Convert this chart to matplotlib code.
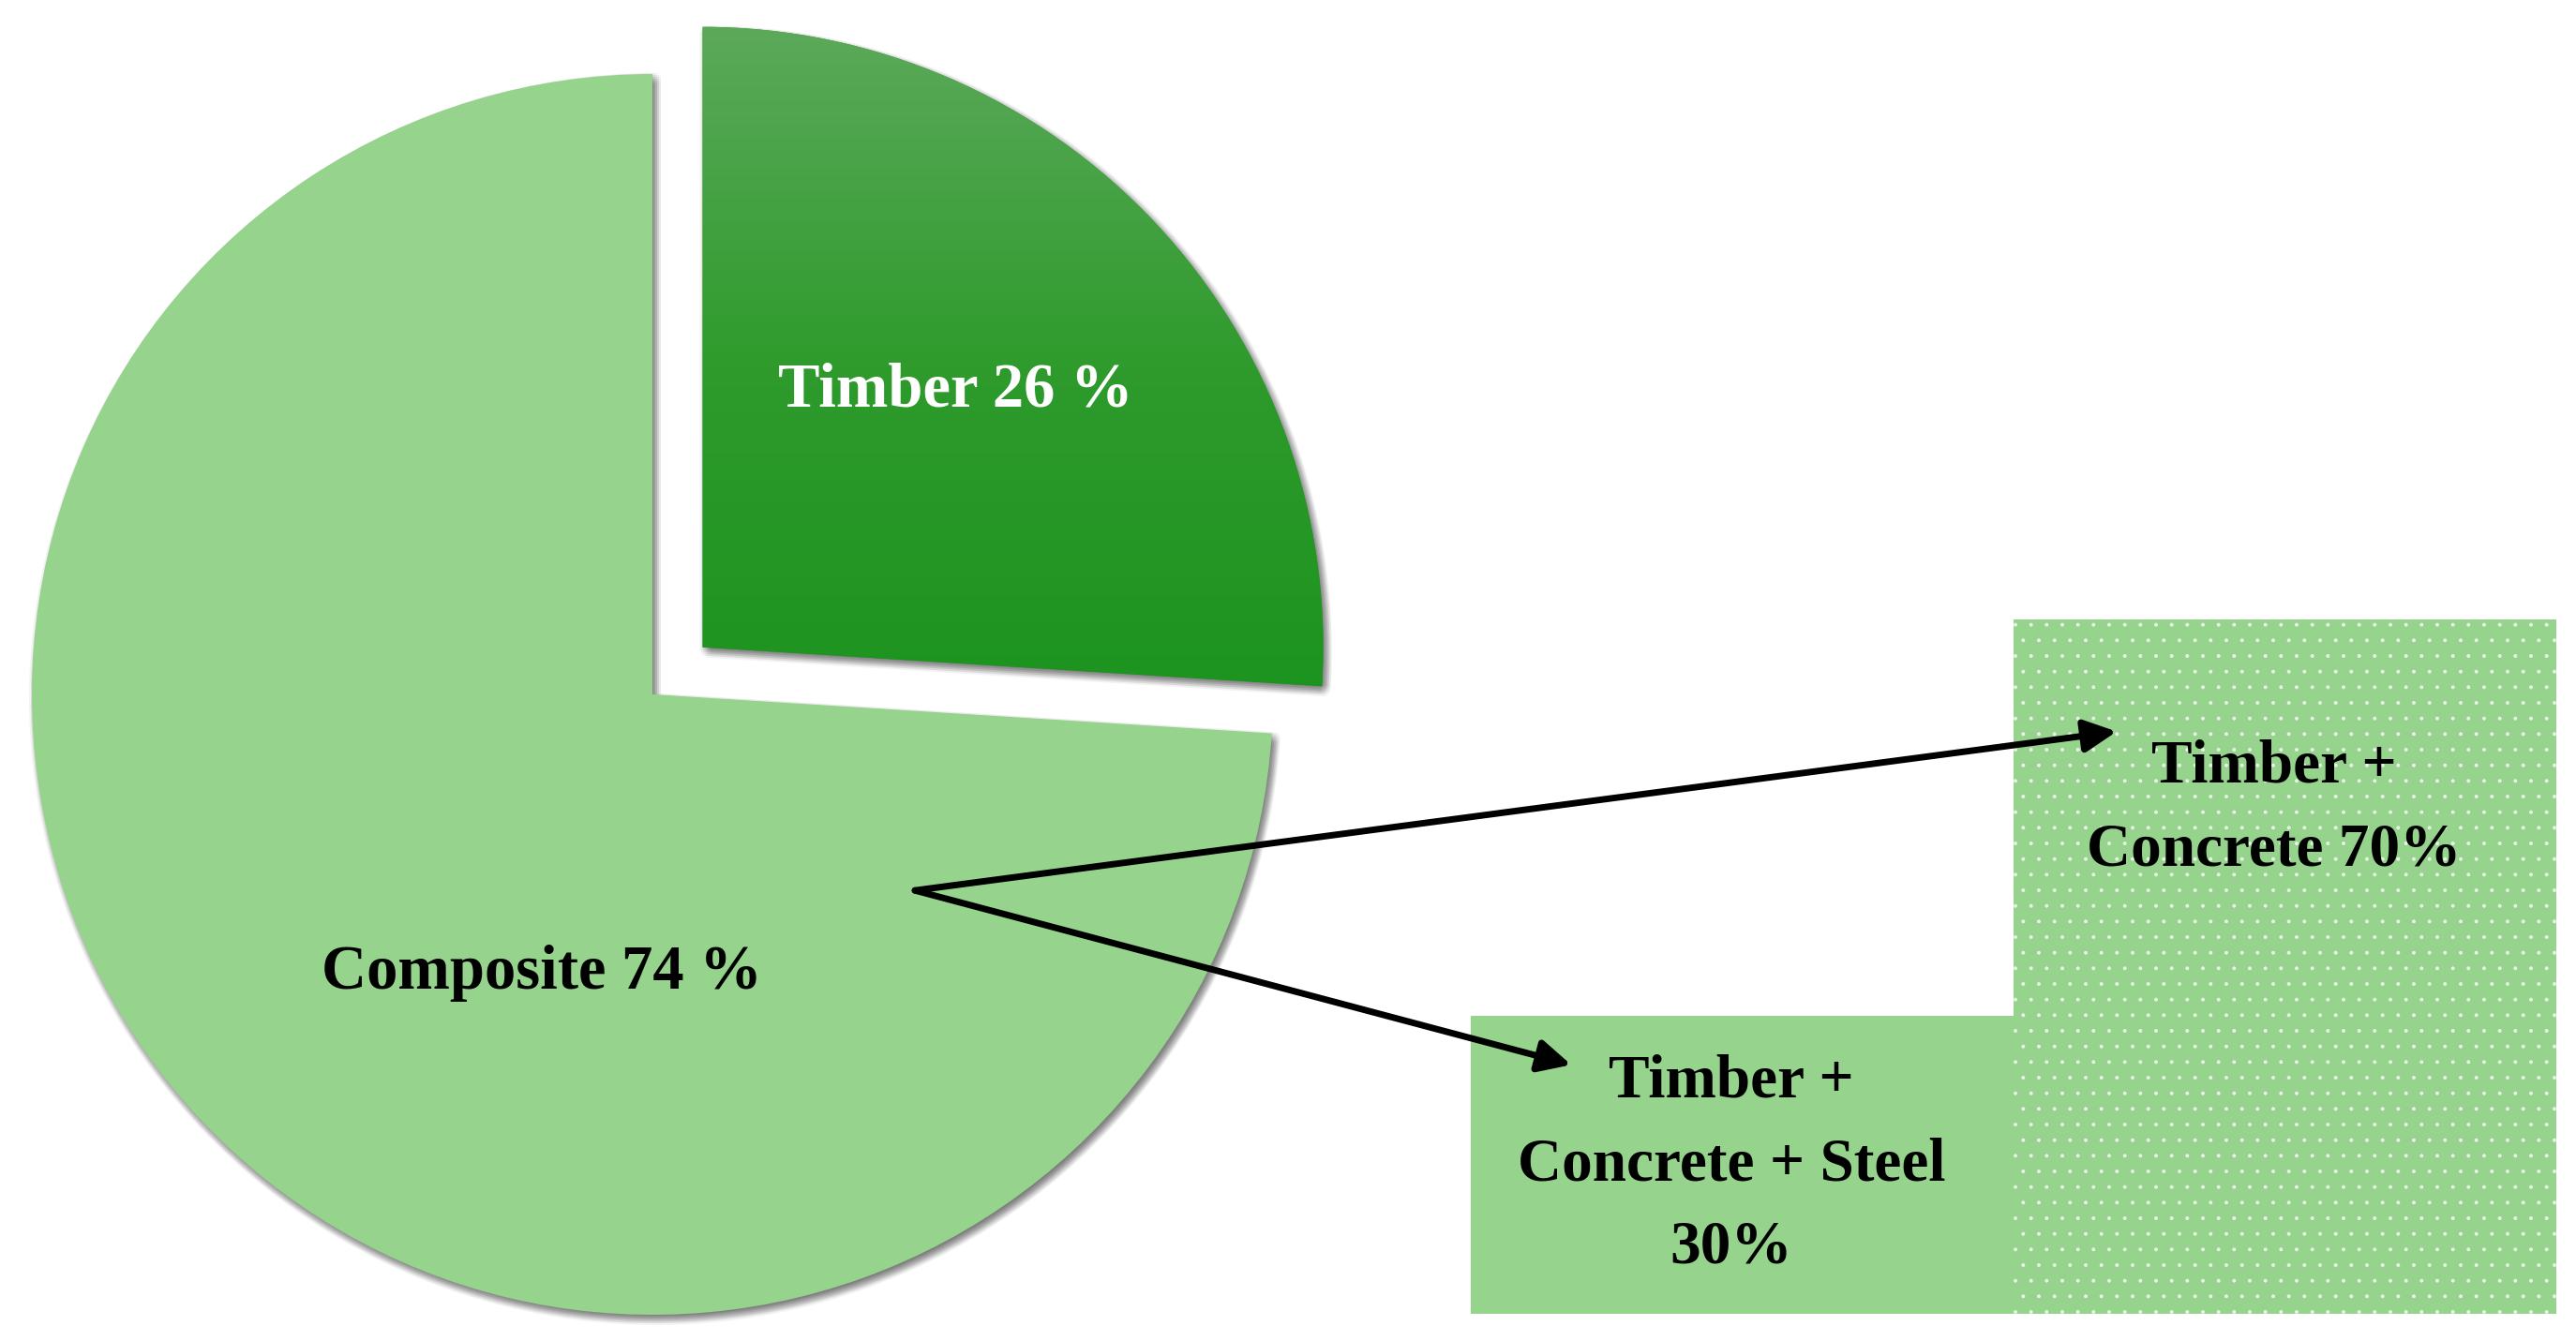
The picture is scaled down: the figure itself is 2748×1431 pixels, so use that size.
import numpy as np
import matplotlib
matplotlib.use('Agg')
import matplotlib.pyplot as plt
from matplotlib import patheffects as pe
from matplotlib.colors import LinearSegmentedColormap
from matplotlib.patches import ConnectionPatch

# ---------------- data ----------------
pie_labels = ['Timber 26 %', 'Composite 74 %']
pie_values = [26, 74]
pie_explode = [0.111, 0.0]
bar_labels = ['Timber +\nConcrete + Steel\n30%', 'Timber +\nConcrete 70%']
bar_values = [30, 70]

# ---------------- style ----------------
plt.rcParams['font.family'] = ['Liberation Serif', 'DejaVu Serif']
plt.rcParams['hatch.linewidth'] = 0.4
LIGHT = '#96d38c'
DARK = '#2a9a2a'

W, H = 2748, 1431
dpi = 100
fig = plt.figure(figsize=(W / dpi, H / dpi), dpi=dpi)
fig.patch.set_facecolor('white')

# ---------------- pie ----------------
r_px = 662
cx, cy = 696, H - 741
lim = 1.15
side = 2 * lim * r_px
axp = fig.add_axes([(cx - side / 2) / W, (cy - side / 2) / H, side / W, side / H])
wedges, _ = axp.pie(pie_values, startangle=90, counterclock=False,
                    explode=pie_explode, colors=[DARK, LIGHT], radius=1,
                    wedgeprops=dict(linewidth=0))
axp.set_xlim(-lim, lim)
axp.set_ylim(-lim, lim)
axp.set_aspect('equal')
axp.axis('off')

# soft drop shadow
pt = 72.0 / dpi
effects = []
for dx in np.arange(-3, 11, 2.0):
    for dy in np.arange(-3, 12, 2.0):
        if (dx - 3.5) ** 2 + (dy - 4.5) ** 2 <= 45:
            effects.append(pe.SimplePatchShadow(offset=(dx * pt, -dy * pt),
                                                shadow_rgbFace='#404040', alpha=0.026))
effects.append(pe.Normal())
for w in wedges:
    w.set_path_effects(effects)

# vertical gradient on timber wedge
cmap = LinearSegmentedColormap.from_list(
    'tg', [(0.0, '#1c931f'), (0.5, '#2e9b2c'), (1.0, '#5ca95a')])
tw = wedges[0]
grad = np.linspace(0, 1, 256).reshape(-1, 1)
ox, oy = tw.center
im = axp.imshow(grad, cmap=cmap, origin='lower', aspect='auto',
                extent=[ox - 0.05, ox + 1.05, oy - 0.1, oy + 1.0], zorder=3)
im.set_clip_path(tw)
axp.set_xlim(-lim, lim)
axp.set_ylim(-lim, lim)

axp.text(0.489, 0.489, pie_labels[0], color='white', fontsize=48,
         fontweight='bold', ha='center', va='center', zorder=5)
axp.text(-0.178, -0.449, pie_labels[1], color='black', fontsize=48,
         fontweight='bold', ha='center', va='center', zorder=5)

# ---------------- bars ----------------
axb = fig.add_axes([1569 / W, (H - 1402) / H, 1158 / W, 741 / H])
bars = axb.bar([0, 1], bar_values, width=1.0, color=LIGHT, linewidth=0)
bars[1].set_hatch('.')
bars[1].set_edgecolor((1, 1, 1, 0.75))
bars[1].set_linewidth(0)
axb.set_xlim(-0.5, 1.5)
axb.set_ylim(0, 70)
axb.axis('off')

bar_text_y = [15.0, 50.9]
for i, (lab, ty) in enumerate(zip(bar_labels, bar_text_y)):
    axb.text(i - 0.02, ty, lab, ha='center', va='center', fontsize=47,
             fontweight='bold', linespacing=1.62, color='black')

# ---------------- connector arrows ----------------
start = (0.423, -0.316)
targets = [(-0.315, 25.1), (0.69, 58.7)]
for t in targets:
    con = ConnectionPatch(xyA=start, coordsA=axp.transData,
                          xyB=t, coordsB=axb.transData,
                          arrowstyle='-|>', mutation_scale=52, lw=5,
                          color='black', fc='black', shrinkA=0, shrinkB=0,
                          zorder=10)
    fig.add_artist(con)

fig.savefig('out.png', dpi=dpi, facecolor='white')
